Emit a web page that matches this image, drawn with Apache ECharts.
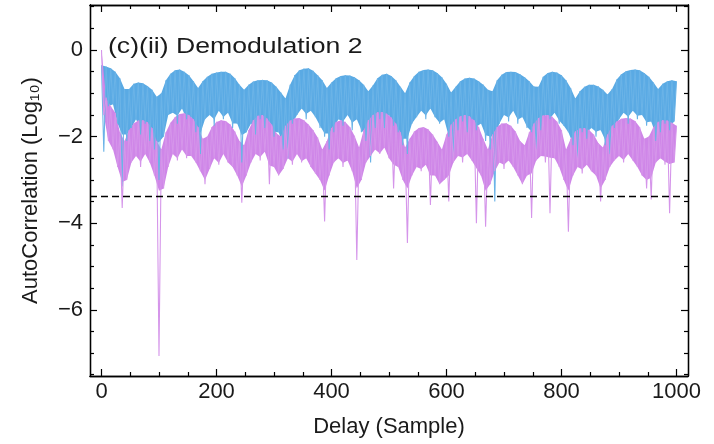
<!DOCTYPE html>
<html>
<head>
<meta charset="utf-8">
<script src="https://cdn.jsdelivr.net/npm/echarts@6/dist/echarts.min.js"></script>
<style>
  html, body { margin: 0; padding: 0; background: #fff; }
  #chart { width: 714px; height: 444px; }
</style>
</head>
<body>
<div id="chart"></div>
<script>
// delay step between stored points (samples)
const step = 4;

// Demodulation 2, blue trace: upper points (delay 0, 8, 16, ...) and lower points (delay 4, 12, 20, ...)
const blueHigh = [
  -0.35, -0.38, -0.42, -0.5, -0.65, -0.9, -0.9, -0.78, -0.75, -0.77,
  -0.83, -0.92, -1.08, -1.0, -0.7, -0.55, -0.47, -0.45, -0.5, -0.58,
  -0.72, -0.88, -0.72, -0.62, -0.55, -0.52, -0.5, -0.5, -0.55, -0.65,
  -0.8, -0.92, -0.8, -0.73, -0.7, -0.69, -0.7, -0.75, -0.85, -0.98,
  -1.12, -0.8, -0.58, -0.47, -0.43, -0.42, -0.48, -0.58, -0.7, -0.88,
  -0.75, -0.65, -0.6, -0.58, -0.59, -0.63, -0.7, -0.8, -0.95, -0.82,
  -0.65, -0.57, -0.55, -0.6, -0.7, -0.85, -1.0, -0.75, -0.6, -0.5,
  -0.46, -0.45, -0.47, -0.53, -0.63, -0.78, -0.98, -0.85, -0.72, -0.66,
  -0.64, -0.66, -0.72, -0.8, -0.92, -0.95, -0.7, -0.57, -0.51, -0.5,
  -0.51, -0.56, -0.63, -0.72, -0.84, -0.85, -0.62, -0.53, -0.5, -0.52,
  -0.58, -0.7, -0.88, -1.12, -0.95, -0.85, -0.8, -0.8, -0.84, -0.92,
  -1.03, -0.9, -0.68, -0.56, -0.49, -0.46, -0.45, -0.47, -0.53, -0.62,
  -0.75, -0.9, -0.78, -0.72, -0.7, -0.72
];
const blueLow = [
  -2.35, -1.3, -1.25, -1.7, -3.15, -2.1, -1.8, -1.6, -1.95, -1.7,
  -2.1, -2.3, -3.0, -2.0, -1.5, -1.45, -1.7, -1.35, -1.6, -1.55,
  -1.9, -2.4, -1.6, -1.5, -1.75, -1.4, -1.6, -1.45, -1.8, -1.7,
  -2.6, -1.9, -1.7, -1.95, -1.6, -1.8, -1.65, -2.0, -1.9, -2.3,
  -2.5, -1.7, -1.5, -1.35, -1.6, -1.4, -1.55, -1.8, -2.0, -2.3,
  -1.9, -1.6, -1.75, -1.5, -1.85, -1.6, -1.9, -2.1, -2.6, -1.8,
  -1.6, -1.8, -1.5, -1.75, -1.9, -2.2, -2.4, -1.7, -1.55, -1.4,
  -1.6, -1.35, -1.55, -1.7, -1.6, -2.0, -2.5, -1.85, -1.65, -1.9,
  -1.6, -1.85, -1.7, -2.1, -2.3, -3.5, -1.7, -1.5, -1.65, -1.4,
  -1.7, -1.55, -1.8, -1.9, -2.3, -1.85, -1.5, -1.6, -1.45, -1.7,
  -1.75, -1.9, -2.2, -2.5, -1.9, -2.05, -1.8, -2.0, -1.85, -2.2,
  -2.4, -1.8, -1.6, -1.45, -1.7, -1.4, -1.6, -1.5, -1.75, -1.65,
  -2.1, -1.9, -1.7, -1.85, -1.65
];

// purple trace, same layout
const pinkHigh = [
  0, -1.1, -1.3, -1.45, -1.9, -2.1, -1.85, -1.7, -1.63, -1.62,
  -1.67, -1.8, -2.1, -2.3, -1.9, -1.68, -1.55, -1.48, -1.46, -1.5,
  -1.6, -1.78, -2.05, -2.0, -1.78, -1.66, -1.62, -1.64, -1.72, -1.88,
  -2.1, -2.2, -1.85, -1.62, -1.52, -1.5, -1.58, -1.72, -1.92, -2.0,
  -1.75, -1.63, -1.58, -1.57, -1.62, -1.72, -1.85, -2.02, -2.3, -2.1,
  -1.8, -1.66, -1.62, -1.66, -1.78, -1.98, -2.25, -1.85, -1.62, -1.5,
  -1.44, -1.43, -1.47, -1.56, -1.7, -1.9, -2.25, -2.05, -1.88, -1.8,
  -1.78, -1.83, -1.95, -2.12, -2.3, -1.95, -1.72, -1.6, -1.53, -1.5,
  -1.53, -1.62, -1.78, -2.05, -2.3, -1.95, -1.78, -1.7, -1.69, -1.75,
  -1.88, -2.1, -2.2, -1.9, -1.7, -1.57, -1.51, -1.5, -1.54, -1.65,
  -1.85, -2.3, -2.05, -1.88, -1.81, -1.8, -1.85, -1.95, -2.15, -2.25,
  -1.95, -1.75, -1.65, -1.59, -1.57, -1.58, -1.64, -1.78, -2.05, -2.0,
  -1.78, -1.66, -1.62, -1.63, -1.68, -1.75
];
const pinkLow = [
  -1.5, -2.1, -2.3, -2.7, -3.65, -3.0, -2.6, -2.45, -2.7, -2.4,
  -2.6, -2.9, -7.07, -3.2, -2.7, -2.4, -2.55, -2.3, -2.5, -2.45,
  -2.6, -2.8, -3.1, -2.75, -2.5, -2.65, -2.4, -2.6, -2.7, -2.9,
  -3.53, -2.9, -2.6, -2.4, -2.55, -2.35, -3.1, -2.7, -2.9, -2.75,
  -2.5, -2.65, -2.4, -2.6, -2.5, -2.7, -2.85, -3.0, -3.96, -2.9,
  -2.6, -2.5, -2.7, -2.55, -2.8, -4.85, -3.0, -2.6, -2.45, -2.3,
  -2.4, -2.25, -2.5, -3.2, -2.7, -3.0, -4.46, -2.9, -2.7, -2.8,
  -2.65, -3.58, -2.9, -3.1, -3.0, -3.5, -2.6, -2.45, -2.6, -2.4,
  -2.55, -4.0, -2.9, -4.08, -3.1, -2.8, -2.6, -2.75, -2.55, -2.7,
  -2.9, -3.1, -2.9, -3.88, -2.55, -2.45, -2.6, -3.77, -2.5, -2.7,
  -3.0, -4.2, -2.9, -2.7, -2.85, -2.65, -2.8, -2.9, -3.5, -3.0,
  -2.7, -2.55, -2.45, -2.6, -2.4, -2.55, -2.7, -2.9, -3.2, -3.45,
  -2.6, -2.5, -2.65, -3.77, -2.6
];

const threshold = -3.37;

const xLabels = [0, 200, 400, 600, 800, 1000];
const xMinor = [50, 100, 150, 250, 300, 350, 450, 500, 550, 650, 700, 750, 850, 900, 950];
const yLabels = [0, -2, -4, -6];
const yMinor = [1, 0.5, -0.5, -1, -1.5, -2.5, -3, -3.5, -4.5, -5, -5.5, -6.5, -7, -7.5];

const blueColor = '#5aaae4';
const blueLine = '#6ab3e7';
const pinkColor = '#cf86e8';
const pinkLine = '#d595ea';

function interleave(high, low) {
  const out = [];
  for (let i = 0; i < high.length + low.length; i++) {
    const v = i % 2 === 0 ? high[i / 2] : low[(i - 1) / 2];
    out.push([i * step, v]);
  }
  return out;
}

// dense part of the trace: filled between the upper points and the lower points,
// the lower edge kept within `depth` of the upper edge (the deep spikes are drawn by the line)
function bandSeries(high, low, depth, color) {
  return {
    type: 'custom', silent: true,
    data: [[0, 0]],
    encode: { x: 0, y: 1 },
    renderItem: function (params, api) {
      const pts = [];
      for (let k = 0; k < high.length; k++) pts.push(api.coord([2 * k * step, high[k]]));
      for (let k = low.length - 1; k >= 0; k--) {
        const top = Math.min(high[k], high[k + 1]);
        pts.push(api.coord([(2 * k + 1) * step, Math.max(low[k], top - depth)]));
      }
      return { type: 'polygon', shape: { points: pts }, style: { fill: color } };
    }
  };
}

const font = "'Liberation Sans', Arial, sans-serif";
const ink = '#1a1a1a';
const minus = (v) => (v < 0 ? '\u2212' + (-v) : String(v));

function xAx(pos, ticks, len, labels) {
  return {
    type: 'value', position: pos, min: -20, max: 1020,
    axisLine: { show: true, onZero: false, lineStyle: { color: '#000', width: 1.3 } },
    axisTick: { show: true, inside: true, length: len, customValues: ticks, lineStyle: { color: '#000', width: 1.2 } },
    axisLabel: labels
      ? { show: true, customValues: ticks, formatter: (v) => String(v), fontSize: 22, fontFamily: font, color: ink, margin: 5 }
      : { show: false },
    splitLine: { show: false }
  };
}
function yAx(pos, ticks, len, labels) {
  return {
    type: 'value', position: pos, min: -7.53, max: 1.04,
    axisLine: { show: true, onZero: false, lineStyle: { color: '#000', width: 1.3 } },
    axisTick: { show: true, inside: true, length: len, customValues: ticks, lineStyle: { color: '#000', width: 1.2 } },
    axisLabel: labels
      ? { show: true, customValues: ticks, formatter: minus, fontSize: 22, fontFamily: font, color: ink, margin: 7 }
      : { show: false },
    splitLine: { show: false }
  };
}

const xMain = xAx('bottom', xLabels, 7, true);
xMain.name = 'Delay (Sample)';
xMain.nameLocation = 'middle';
xMain.nameGap = 40;
xMain.nameTextStyle = { fontSize: 22, fontFamily: font, color: ink };

const yMain = yAx('left', yLabels, 7, true);
yMain.name = 'AutoCorrelation (Log\u2081\u2080)';
yMain.nameLocation = 'middle';
yMain.nameGap = 48;
yMain.nameTextStyle = { fontSize: 22, fontFamily: font, color: ink };

const chart = echarts.init(document.getElementById('chart'), null, { renderer: 'canvas' });
chart.setOption({
  animation: false,
  backgroundColor: '#fff',
  grid: { left: 90, right: 26, top: 5, bottom: 68 },
  xAxis: [
    xMain,
    xAx('bottom', xMinor, 4, false),
    xAx('top', xLabels, 7, false),
    xAx('top', xMinor, 4, false)
  ],
  yAxis: [
    yMain,
    yAx('left', yMinor, 4, false),
    yAx('right', yLabels, 7, false),
    yAx('right', yMinor, 4, false)
  ],
  graphic: [{
    type: 'text', left: 108, top: 36, scaleX: 1.21,
    style: { text: '(c)(ii) Demodulation 2', font: '22px ' + font, fill: ink }
  }],
  series: [
    bandSeries(blueHigh, blueLow, 1.05, blueColor),
    {
      name: 'blue', type: 'line', showSymbol: false, symbol: 'none',
      data: interleave(blueHigh, blueLow),
      lineStyle: { color: blueLine, width: 1.1 }
    },
    bandSeries(pinkHigh, pinkLow, 0.95, pinkColor),
    {
      name: 'purple', type: 'line', showSymbol: false, symbol: 'none',
      data: interleave(pinkHigh, pinkLow),
      lineStyle: { color: pinkLine, width: 1.1 },
      markLine: {
        silent: true, symbol: 'none', label: { show: false },
        lineStyle: { color: '#000', type: [7, 4], width: 1.3 },
        data: [{ yAxis: threshold }]
      }
    }
  ]
});
</script>
</body>
</html>
